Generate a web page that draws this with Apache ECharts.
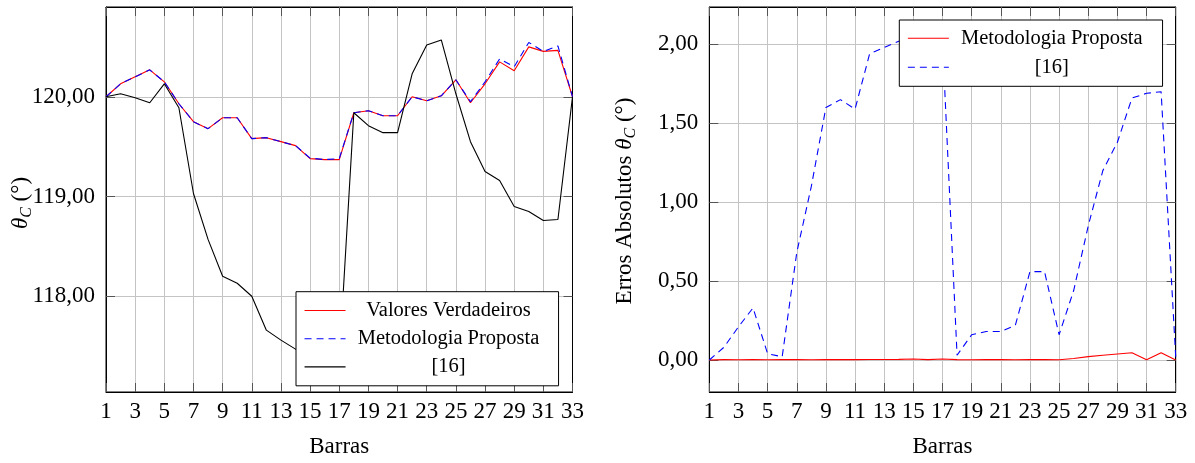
<!DOCTYPE html>
<html>
<head>
<meta charset="utf-8">
<script src="https://cdn.jsdelivr.net/npm/echarts@6/dist/echarts.min.js"></script>
<style>
  html, body { margin: 0; padding: 0; background: #fff; }
  #chart { width: 1195px; height: 463px; }
</style>
</head>
<body>
<div id="chart"></div>
<script>
// Bus numbers (x axis) and angle values per bus
const barras = ['1','2','3','4','5','6','7','8','9','10','11','12','13','14','15','16','17',
                '18','19','20','21','22','23','24','25','26','27','28','29','30','31','32','33'];

// theta_C in degrees
const valoresVerdadeiros = [120.00, 120.13, 120.20, 120.27, 120.15, 119.93, 119.75, 119.68, 119.79, 119.79,
                            119.58, 119.59, 119.55, 119.51, 119.38, 119.37, 119.37, 119.84, 119.86, 119.81,
                            119.81, 120.00, 119.96, 120.01, 120.17, 119.94, 120.13, 120.35, 120.26, 120.50,
                            120.455, 120.465, 120.00];
const metodologiaProposta = [120.00, 120.13, 120.20, 120.27, 120.15, 119.93, 119.75, 119.68, 119.79, 119.79,
                             119.58, 119.59, 119.55, 119.51, 119.385, 119.37, 119.38, 119.84, 119.86, 119.81,
                             119.81, 120.00, 119.96, 120.01, 120.17, 119.95, 120.15, 120.38, 120.30, 120.545,
                             120.455, 120.51, 120.00];
const referencia16 = [120.00, 120.03, 119.99, 119.94, 120.13, 119.89, 119.03, 118.57, 118.20, 118.13,
                      118.00, 117.66, 117.56, 117.47, 117.36, 117.35, 117.36, 119.84, 119.71, 119.64,
                      119.64, 120.23, 120.52, 120.57, 120.03, 119.55, 119.25, 119.16, 118.90, 118.85,
                      118.76, 118.77, 120.00];

// absolute errors of theta_C in degrees
const erroProposta = [0.000, 0.002, 0.001, 0.002, 0.001, 0.002, 0.002, 0.001, 0.003, 0.002,
                      0.002, 0.003, 0.003, 0.004, 0.006, 0.002, 0.006, 0.002, 0.001, 0.002,
                      0.002, 0.001, 0.002, 0.002, 0.001, 0.009, 0.021, 0.030, 0.038, 0.046,
                      0.001, 0.046, 0.000];
const erro16 = [0.00, 0.08, 0.21, 0.33, 0.04, 0.02, 0.68, 1.10, 1.60, 1.65,
                1.59, 1.94, 1.98, 2.02, 2.02, 2.02, 2.02, 0.03, 0.16, 0.18,
                0.18, 0.22, 0.56, 0.56, 0.16, 0.44, 0.85, 1.20, 1.38, 1.66,
                1.69, 1.70, 0.02];

// y tick values
const ticksAngulo = [118, 119, 120];
const ticksErro = [0, 0.5, 1, 1.5, 2];

const FONT = 'Liberation Serif';
const FS = 23;
const GRID_COLOR = '#c4c4c4';
const TICK_COLOR = '#555';
const RED = '#ff0000', BLUE = '#0000ff', BLACK = '#000000';
const DASH = [7, 5];

const fmt = v => v.toFixed(2).replace('.', ',');

function xAxes(gridIndex) {
  return [
    {
      gridIndex, type: 'category', data: barras, boundaryGap: false, position: 'bottom',
      axisLine: { show: true, onZero: false, lineStyle: { color: '#000', width: 1 } },
      axisTick: { show: true, inside: true, length: 9, interval: 1, lineStyle: { color: TICK_COLOR } },
      axisLabel: { interval: 1, fontFamily: FONT, fontSize: FS, color: '#000', margin: 8 },
      splitLine: { show: true, interval: 1, lineStyle: { color: GRID_COLOR, width: 1 } },
      name: 'Barras', nameLocation: 'middle', nameGap: 43,
      nameTextStyle: { fontFamily: FONT, fontSize: FS, color: '#000' }
    },
    {
      gridIndex, type: 'category', data: barras, boundaryGap: false, position: 'top',
      axisLine: { show: true, onZero: false, lineStyle: { color: '#000', width: 1 } },
      axisTick: { show: true, inside: true, length: 9, interval: 1, lineStyle: { color: TICK_COLOR } },
      axisLabel: { show: false }, splitLine: { show: false }
    }
  ];
}

function yAxes(gridIndex, min, max, ticks) {
  const base = {
    gridIndex, type: 'value', min, max,
    axisLine: { show: true, onZero: false, lineStyle: { color: '#000', width: 1 } },
    axisTick: { show: true, inside: true, length: 9, customValues: ticks, lineStyle: { color: TICK_COLOR } }
  };
  return [
    Object.assign({}, base, {
      position: 'left',
      axisLabel: { fontFamily: FONT, fontSize: FS, color: '#000', margin: 11,
                   customValues: ticks, formatter: fmt },
      splitLine: { show: true, lineStyle: { color: GRID_COLOR, width: 1 } }
    }),
    Object.assign({}, base, {
      position: 'right', axisLabel: { show: false }, splitLine: { show: false }
    })
  ];
}

function lineSeries(name, data, color, dashed, xi, yi) {
  return {
    name, type: 'line', data, xAxisIndex: xi, yAxisIndex: yi,
    symbol: 'none', showSymbol: false, animation: false,
    lineStyle: { color, width: 1.1, type: dashed ? DASH : 'solid' },
    itemStyle: { color }
  };
}

function legendItem(name, color, dashed) {
  return {
    name,
    lineStyle: { color, type: dashed ? DASH : 'solid', width: 1.1 },
    itemStyle: { color, opacity: 0 }
  };
}

const legendText = {
  formatter: n => '{t|' + n + '}',
  textStyle: { rich: { t: { width: 196, align: 'center', fontFamily: FONT, fontSize: 20.5, lineHeight: 20, color: '#000' } } }
};

const thetaRich = {
  n: { fontFamily: FONT, fontSize: FS, color: '#000' },
  i: { fontFamily: FONT, fontSize: FS, fontStyle: 'italic', color: '#000' },
  s: { fontFamily: FONT, fontSize: 16, fontStyle: 'italic', color: '#000', padding: [11, 0, 0, 0] }
};

const option = {
  backgroundColor: '#fff',
  animation: false,
  grid: [
    { left: 106, right: 622.5, top: 7, bottom: 68, show: true, borderColor: '#000', borderWidth: 1, backgroundColor: 'transparent' },
    { left: 709.3, right: 19.3, top: 7, bottom: 68, show: true, borderColor: '#000', borderWidth: 1, backgroundColor: 'transparent' }
  ],
  xAxis: [...xAxes(0), ...xAxes(1)],
  yAxis: [...yAxes(0, 117.04, 120.90, ticksAngulo), ...yAxes(1, -0.203, 2.237, ticksErro)],
  legend: [
    Object.assign({
      left: 296, top: 291.7, orient: 'vertical', selectedMode: false,
      backgroundColor: '#fff', borderColor: '#000', borderWidth: 1,
      padding: [8.3, 12, 8.4, 8], itemWidth: 41, itemHeight: 14, itemGap: 7.2,
      data: [
        legendItem('Valores Verdadeiros', RED, false),
        legendItem('Metodologia Proposta', BLUE, true),
        legendItem('[16]', BLACK, false)
      ]
    }, legendText),
    Object.assign({
      left: 899.3, top: 20, orient: 'vertical', selectedMode: false,
      backgroundColor: '#fff', borderColor: '#000', borderWidth: 1,
      padding: [7.7, 12.7, 8.6, 8], itemWidth: 41, itemHeight: 14, itemGap: 8,
      data: [
        legendItem('Metodologia Proposta', RED, false),
        legendItem('[16]', BLUE, true)
      ]
    }, legendText)
  ],
  graphic: [
    {
      type: 'text', x: 21, y: 203, rotation: Math.PI / 2,
      style: { text: '{i|θ}{s|C}{n| (°)}', rich: thetaRich, align: 'center', verticalAlign: 'middle' }
    },
    {
      type: 'text', x: 625, y: 201, rotation: Math.PI / 2,
      style: { text: '{n|Erros Absolutos }{i|θ}{s|C}{n| (°)}', rich: thetaRich, align: 'center', verticalAlign: 'middle' }
    }
  ],
  series: [
    lineSeries('Valores Verdadeiros', valoresVerdadeiros, RED, false, 0, 0),
    lineSeries('Metodologia Proposta', metodologiaProposta, BLUE, true, 0, 0),
    lineSeries('[16]', referencia16, BLACK, false, 0, 0),
    lineSeries('Metodologia Proposta', erroProposta, RED, false, 2, 2),
    lineSeries('[16]', erro16, BLUE, true, 2, 2)
  ]
};

const chart = echarts.init(document.getElementById('chart'), null, { renderer: 'canvas' });
chart.setOption(option);
</script>
</body>
</html>
